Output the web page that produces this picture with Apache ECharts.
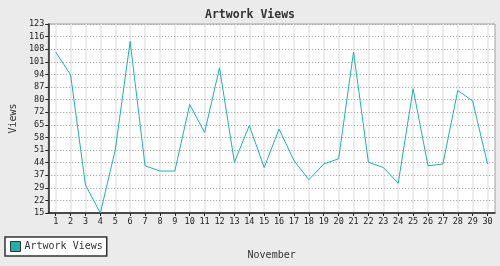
<!DOCTYPE html>
<html><head><meta charset="utf-8">
<style>html,body{margin:0;padding:0;background:#ebebeb;}#c{width:500px;height:266px;}</style>
<script src="https://cdn.jsdelivr.net/npm/echarts@6/dist/echarts.min.js"></script>
</head><body><div id="c"></div>
<script>
const days = ['1','2','3','4','5','6','7','8','9','10','11','12','13','14','15','16','17','18','19','20','21','22','23','24','25','26','27','28','29','30'];
const views = [107, 94, 31, 15, 51, 113, 42, 39, 39, 77, 61, 98, 44, 65, 41, 63, 45, 34, 43, 46, 107, 44, 41, 32, 86, 42, 43, 85, 79, 43];
const yTickLabels = ['15','22','29','37','44','51','58','65','72','80','87','94','101','108','116','123'];
const yMin = 15, yMax = 123;
const yStep = (yMax - yMin) / (yTickLabels.length - 1);
const mono = 'DejaVu Sans Mono';

const chart = echarts.init(document.getElementById('c'), null, {renderer: 'canvas'});
chart.setOption({
  backgroundColor: '#ebebeb',
  animation: false,
  title: {
    text: 'Artwork Views', left: 'center', top: 4,
    textStyle: {fontFamily: mono, fontSize: 11.5, fontWeight: 'bold', color: '#333'}
  },
  legend: {
    left: 5, top: 237, orient: 'horizontal',
    backgroundColor: '#fff', borderColor: '#333', borderWidth: 1.5,
    padding: [4, 4, 4, 5], itemGap: 4,
    itemWidth: 10, itemHeight: 10, icon: 'rect',
    itemStyle: {borderColor: '#333', borderWidth: 1},
    textStyle: {fontFamily: mono, fontSize: 10, color: '#333', padding: [0, 0, 0, -1]},
    data: ['Artwork Views']
  },
  grid: {
    left: 40, right: 5, top: 24, bottom: 53, show: true,
    backgroundColor: '#fff', borderColor: '#a0a0a0', borderWidth: 1
  },
  xAxis: [{
    type: 'category', data: days, boundaryGap: true,
    name: 'November', nameLocation: 'middle', nameGap: 37,
    nameTextStyle: {fontFamily: mono, fontSize: 10, color: '#333'},
    axisLine: {lineStyle: {color: '#222', width: 1.5}},
    axisTick: {show: true, alignWithLabel: true, length: 3, lineStyle: {color: '#222'}},
    axisLabel: {fontFamily: mono, fontSize: 8.5, color: '#222', margin: 4, interval: 0},
    splitLine: {show: false},
    z: 3
  }, {
    type: 'category', data: days, boundaryGap: true, position: 'bottom',
    axisLine: {show: false},
    axisLabel: {show: false},
    axisTick: {show: true, alignWithLabel: true, inside: true, length: 189, interval: 0,
      lineStyle: {color: '#ececec', width: 2}},
    splitLine: {show: false},
    z: 0
  }],
  yAxis: {
    type: 'value', min: 0, max: yTickLabels.length - 1, interval: 1,
    name: 'Views', nameLocation: 'middle', nameGap: 29, nameRotate: 90,
    nameTextStyle: {fontFamily: mono, fontSize: 10, color: '#333'},
    axisLine: {show: true, lineStyle: {color: '#222', width: 1.5}},
    axisTick: {show: true, length: 3, lineStyle: {color: '#222'}},
    axisLabel: {
      fontFamily: mono, fontSize: 8.5, color: '#222', margin: 4,
      formatter: v => yTickLabels[Math.round(v)] || ''
    },
    splitLine: {show: true, lineStyle: {color: '#999', width: 1, type: [1, 2]}},
    z: 3
  },
  series: [{
    name: 'Artwork Views', type: 'line', xAxisIndex: 0,
    data: views.map(v => (v - yMin) / yStep),
    symbol: 'none', color: '#20b2aa',
    lineStyle: {color: '#20b2aa', width: 1}
  }]
});
</script></body></html>
